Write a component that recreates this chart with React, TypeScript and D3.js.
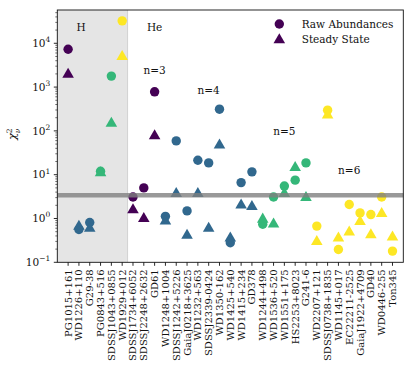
import React from 'react';
import * as d3 from 'd3';

// stars in plot order
const starNames = [
  'PG1015+161', 'WD1226+110', 'G29-38', 'PG0843+516', 'SDSSJ1043+0855', 'WD1929+012',
  'SDSSJ1734+6052', 'SDSSJ2248+2632', 'GD61',
  'WD1248+1004', 'SDSSJ1242+5226', 'GaiaJ0218+3625', 'WD1232+563', 'SDSSJ2339-0424',
  'WD1350-162', 'WD1425+540', 'WD1415+234', 'GD378',
  'WD1244+498', 'WD1536+520', 'WD1551+175', 'HS2253+8023', 'G241-6',
  'WD2207+121', 'SDSSJ0738+1835', 'WD1145+017', 'EC22211-2525', 'GaiaJ1922+4709',
  'GD40', 'WD0446-255', 'Ton345',
];

const rawChi2 = [
  7300, 0.56, 0.81, 12, 1780, 32500,
  3.1, 5.0, 780,
  1.12, 59, 1.49, 21.4, 18.6, 313, 0.28, 6.6, 11.6,
  0.74, 3.1, 5.5, 7.5, 18.6,
  0.67, 297, 0.196, 2.09, 1.34, 1.23, 3.1, 0.18,
];

const steadyChi2 = [
  2040, 0.69, 0.62, 11.4, 155, 5140,
  1.63, 1.03, 80,
  0.91, 3.84, 0.43, 3.84, 0.62, 49, 0.37, 2.09, 1.94,
  1.0, 0.77, 3.84, 15.1, 3.1,
  0.31, 237, 0.37, 0.51, 0.88, 0.44, 1.34, 0.39,
];

// number of elements group (0 -> n=3 ... 3 -> n=6)
const groupIdx = [
  0, 1, 1, 2, 2, 3,
  0, 0, 0,
  1, 1, 1, 1, 1, 1, 1, 1, 1,
  2, 2, 2, 2, 2,
  3, 3, 3, 3, 3, 3, 3, 3,
];

const groupColors = ['#440154', '#31688e', '#35b779', '#fde725'];

const threshold = 3.4;
const hRegionEnd = 5.5;

const labels = [
  { text: 'H', x: 1.2, y: 23700 },
  { text: 'He', x: 8, y: 23700 },
  { text: 'n=3', x: 8, y: 2430 },
  { text: 'n=4', x: 13, y: 850 },
  { text: 'n=5', x: 20, y: 98 },
  { text: 'n=6', x: 26, y: 12.6 },
];

const yTickExps = [-1, 0, 1, 2, 3, 4];

const W = 415;
const H = 380;
const left = 57.3, right = 403.3, top = 10, bottom = 262.3;
const FONT = 'DejaVu Serif';
const INK = '#111';

const x = d3.scaleLinear().domain([-1, starNames.length]).range([left, right]);
const y = d3.scaleLog().domain([0.1, 57500]).range([bottom, top]);
const tri = d3.symbol().type(d3.symbolTriangle).size(58)() as string;

const minorTicks: number[] = [];
for (let e = -1; e <= 4; e++) {
  for (let k = 2; k <= 9; k++) {
    const v = k * Math.pow(10, e);
    if (v < 57500) minorTicks.push(v);
  }
}

const App = () => {
  return (
    <svg width={W} height={H} fontFamily={FONT}
      style={{ position: 'absolute', left: 0, top: 0, background: '#fff' }}>
      {/* H region */}
      <rect x={x(-1)} y={top} width={x(hRegionEnd) - x(-1)} height={bottom - top} fill="#e5e5e5" />
      <line x1={x(hRegionEnd)} x2={x(hRegionEnd)} y1={top} y2={bottom} stroke="#d2d2d2" strokeWidth={1} />

      {rawChi2.map((d, i) => (
        <circle key={'r' + i} cx={x(i)} cy={y(d)} r={4.7} fill={groupColors[groupIdx[i]]} />
      ))}
      {steadyChi2.map((d, i) => (
        <path key={'s' + i} d={tri} transform={`translate(${x(i)},${y(d) + 0.8})`} fill={groupColors[groupIdx[i]]} />
      ))}

      <line x1={left} x2={right} y1={y(threshold)} y2={y(threshold)}
        stroke="#808080" strokeOpacity={0.8} strokeWidth={4.5} />

      {labels.map(l => (
        <text key={l.text} x={x(l.x)} y={y(l.y)} textAnchor="middle" dominantBaseline="central"
          fontSize={10.5} fill={INK}>{l.text}</text>
      ))}

      <rect x={left} y={top} width={right - left} height={bottom - top} fill="none" stroke={INK} strokeWidth={0.9} />

      {starNames.map((name, i) => (
        <g key={name}>
          <line x1={x(i)} x2={x(i)} y1={bottom} y2={bottom + 3.5} stroke={INK} strokeWidth={0.9} />
          <text transform={`translate(${x(i)},${bottom + 7}) rotate(-90)`} textAnchor="end"
            dominantBaseline="central" fontSize={10} fill={INK}>{name}</text>
        </g>
      ))}

      {yTickExps.map(e => {
        const yy = y(Math.pow(10, e));
        return (
          <g key={'y' + e}>
            <line x1={left - 3.5} x2={left} y1={yy} y2={yy} stroke={INK} strokeWidth={0.9} />
            <text x={left - 7} y={yy + 3.8} textAnchor="end" fontSize={10.5} fill={INK}>
              <tspan>10</tspan>
              <tspan dy={-4.8} fontSize={7.5}>{e < 0 ? '\u2212' + Math.abs(e) : String(e)}</tspan>
            </text>
          </g>
        );
      })}
      {minorTicks.map(v => (
        <line key={'m' + v} x1={left - 2} x2={left} y1={y(v)} y2={y(v)} stroke={INK} strokeWidth={0.6} />
      ))}

      {/* chi^2_nu */}
      <g transform="translate(16,135) rotate(-90)" fill={INK}>
        <text x={-5} y={0} fontStyle="italic" fontSize={11.5}>{'\u03c7'}</text>
        <text x={1.8} y={-4} fontSize={7.5}>2</text>
        <text x={1.8} y={3.8} fontStyle="italic" fontSize={7.5}>{'\u03bd'}</text>
      </g>

      {/* legend */}
      <circle cx={279.3} cy={24} r={4.7} fill={groupColors[0]} />
      <path d={tri} transform="translate(279.3,40)" fill={groupColors[0]} />
      <text x={301.7} y={24} dominantBaseline="central" fontSize={10.5} fill={INK}>Raw Abundances</text>
      <text x={301.7} y={39.3} dominantBaseline="central" fontSize={10.5} fill={INK}>Steady State</text>
    </svg>
  );
};

export default App;
